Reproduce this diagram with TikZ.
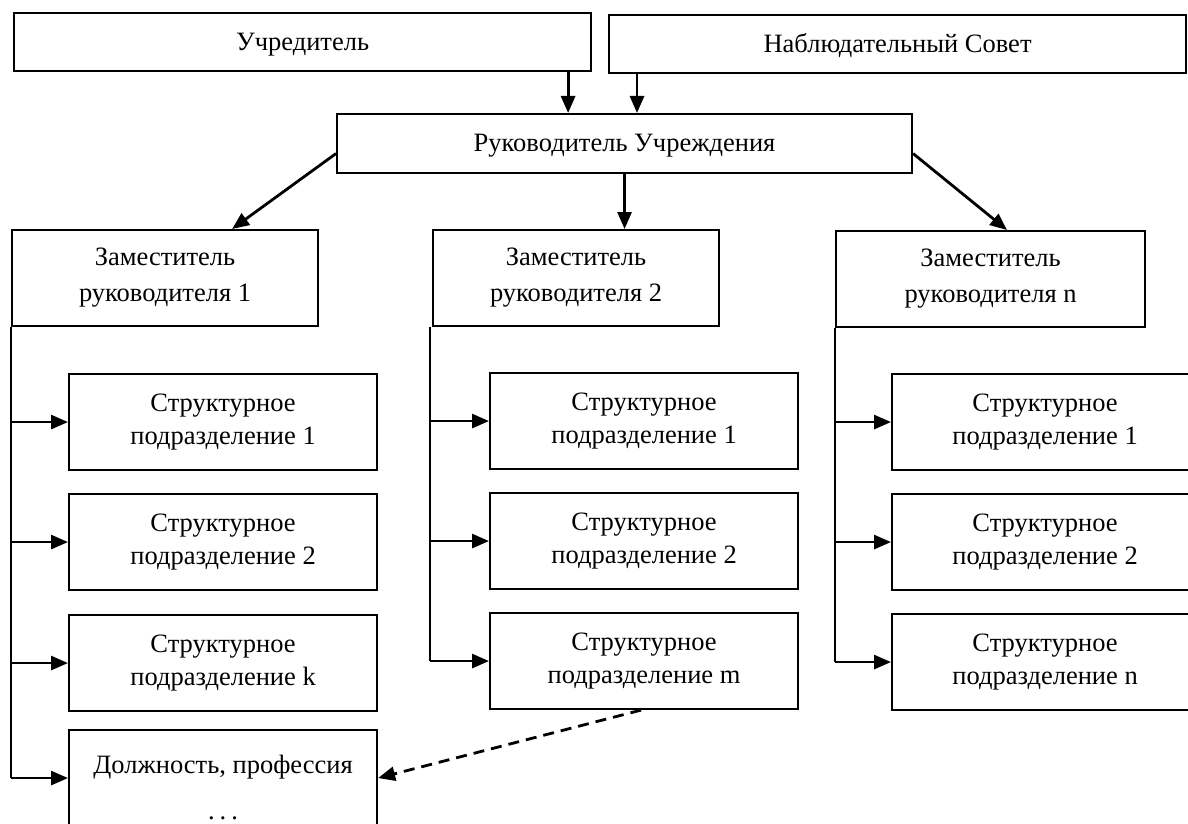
\documentclass[tikz,border=0pt]{standalone}
\usepackage{fontspec}
\setmainfont{Liberation Serif}
\usetikzlibrary{arrows.meta}
\begin{document}
\begin{tikzpicture}[x=1pt,y=-1pt,
  box/.style={draw, line width=2.1pt, anchor=north west, inner sep=0pt,
    font=\fontsize{26.5}{33}\selectfont},
  tbox/.style={box, text depth=0pt, text height=16pt},
  zbox/.style={box, align=center, minimum height=96pt},
  sbox/.style={box, align=center, minimum width=308pt, minimum height=96pt},
  txt/.style={align=center, inner sep=0pt, font=\fontsize{26.5}{33}\selectfont},
  trunk/.style={line width=2.6pt},
  conn/.style={line width=2.8pt, -{Triangle[length=17pt,width=14pt]}},
  dashconn/.style={line width=2.8pt, dash pattern=on 11pt off 7pt, -{Triangle[length=17pt,width=14pt]}}]
\useasboundingbox (0,0) rectangle (1188,824);
\fill[white] (0,0) rectangle (1188,824);

% top level
\node[tbox, minimum width=577pt, minimum height=58pt] (ucr) at (13,12) {Учредитель};
\node[tbox, minimum width=577pt, minimum height=58pt] (nab) at (608,14) {Наблюдательный Совет};
\node[tbox, minimum width=575pt, minimum height=59pt] (ruk) at (336,113) {Руководитель Учреждения};

% deputies
\node[zbox, minimum width=306pt] (z1) at (11,229) {Заместитель\\[3pt]руководителя 1};
\node[zbox, minimum width=286pt] (z2) at (432,229) {Заместитель\\[3pt]руководителя 2};
\node[zbox, minimum width=309pt] (zn) at (835,230) {Заместитель\\[3pt]руководителя n};

% column 1
\node[sbox] (s11) at (68,373) {Структурное\\подразделение 1};
\node[sbox] (s12) at (68,493) {Структурное\\подразделение 2};
\node[sbox] (s1k) at (68,614) {Структурное\\подразделение k};
\node[sbox] (dol) at (68,729) {};
\node[txt] (doltxt) at ([yshift=-9pt]dol.center) {Должность, профессия\\[13pt].\hspace{5pt}.\hspace{5pt}.};

% column 2
\node[sbox] (s21) at (489,372) {Структурное\\подразделение 1};
\node[sbox] (s22) at (489,492) {Структурное\\подразделение 2};
\node[sbox] (s2m) at (489,612) {Структурное\\подразделение m};

% column 3
\node[sbox, minimum width=306pt] (s31) at (891,373) {Структурное\\подразделение 1};
\node[sbox, minimum width=306pt] (s32) at (891,493) {Структурное\\подразделение 2};
\node[sbox, minimum width=306pt] (s3n) at (891,613) {Структурное\\подразделение n};

% top arrows
\draw[conn] ([xshift=-24pt]ucr.south east) -- ([xshift=-24pt]ucr.south east |- ruk.north);
\draw[conn] ([xshift=29pt]nab.south west) -- ([xshift=29pt]nab.south west |- ruk.north);
\draw[conn] (ruk.south) -- (ruk.south |- z2.north);
\draw[conn] ([yshift=-10pt]ruk.west) -- ([xshift=-87pt]z1.north east);
\draw[conn] ([yshift=-10pt]ruk.east) -- ([xshift=172pt]zn.north west);

% column 1 trunk
\draw[trunk] (z1.south west) -- (z1.south west |- dol.west);
\foreach \n in {s11,s12,s1k,dol}
  \draw[conn] (z1.south west |- \n.west) -- (\n.west);

% column 2 trunk
\coordinate (c2) at ([xshift=-2pt]z2.south west);
\draw[trunk] (c2) -- (c2 |- s2m.west);
\foreach \n in {s21,s22,s2m}
  \draw[conn] (c2 |- \n.west) -- (\n.west);

% column 3 trunk
\draw[trunk] (zn.south west) -- (zn.south west |- s3n.west);
\foreach \n in {s31,s32,s3n}
  \draw[conn] (zn.south west |- \n.west) -- (\n.west);

% dashed link
\draw[dashconn] ([xshift=-3pt]s2m.south) -- (dol.east);
\end{tikzpicture}
\end{document}
